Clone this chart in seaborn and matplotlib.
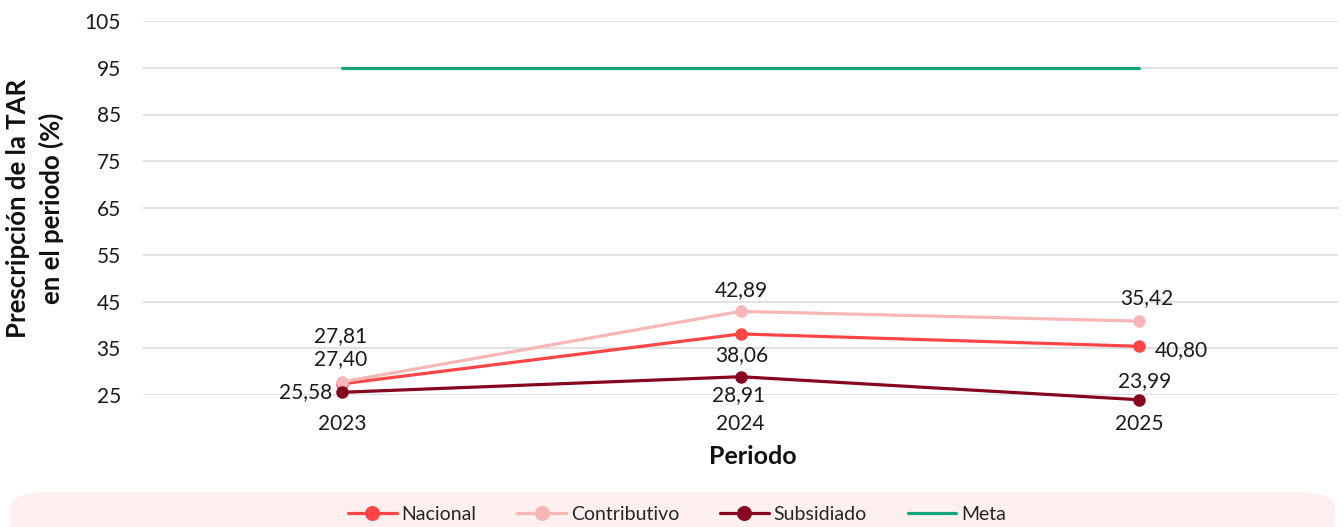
import pandas as pd
import matplotlib.pyplot as plt
import seaborn as sns
from matplotlib.patches import FancyBboxPatch

# Data
periodos = ['2023', '2024', '2025']
nacional = [27.40, 38.06, 35.42]
contributivo = [27.81, 42.89, 40.80]
subsidiado = [25.58, 28.91, 23.99]
meta = [95, 95, 95]

series = ['Nacional', 'Contributivo', 'Subsidiado', 'Meta']
colores = {'Nacional': '#ff4545', 'Contributivo': '#f7b7b7',
           'Subsidiado': '#85061e', 'Meta': '#12a67c'}

df = pd.DataFrame({
    'Periodo': periodos * 4,
    'Valor': nacional + contributivo + subsidiado + meta,
    'Serie': [s for s in series for _ in periodos],
})

# label offsets in pixels (dx, dy) relative to each point
offsets = {
    'Nacional': [(-2, 25), (1, -21), (8, 48)],
    'Contributivo': [(-2, 46), (1, 21), (43, -29)],
    'Subsidiado': [(-37, 0), (-2, -18), (6, 19)],
}

sns.set_theme(style='whitegrid')
plt.rcParams['font.family'] = ['Lato', 'DejaVu Sans']

fig = plt.figure(figsize=(13.43, 5.27), dpi=100)
ax = fig.add_axes([143 / 1343, 1 - 395 / 527, 1195 / 1343, 374 / 527])

for s in series:
    sub = df[df['Serie'] == s]
    sns.lineplot(data=sub, x='Periodo', y='Valor', ax=ax, color=colores[s],
                 linewidth=2.3, marker=None if s == 'Meta' else 'o',
                 markersize=9, markeredgewidth=0, label=s, clip_on=False,
                 zorder=3)

# data labels
for s in ['Nacional', 'Contributivo', 'Subsidiado']:
    vals = df[df['Serie'] == s]['Valor'].tolist()
    for i, v in enumerate(vals):
        dx, dy = offsets[s][i]
        ax.annotate(f'{v:.2f}'.replace('.', ','), xy=(i, v),
                    xytext=(dx, dy), textcoords='offset pixels',
                    ha='center', va='center', fontsize=15, color='#1a1a1a',
                    annotation_clip=False)

ax.set_xlim(-0.5, 2.5)
ax.set_ylim(25, 105)
ax.set_yticks(range(25, 106, 10))
ax.grid(axis='y', color='#d9d9d9', linewidth=1.1)
ax.grid(axis='x', visible=False)
for sp in ax.spines.values():
    sp.set_visible(False)
ax.tick_params(axis='y', length=0, pad=16, labelsize=15, labelcolor='#1a1a1a')
ax.tick_params(axis='x', length=0, pad=14, labelsize=15, labelcolor='#1a1a1a')

ax.set_xlabel('Periodo', fontsize=18, fontweight='bold', color='#111111')
ax.xaxis.set_label_coords(0.51, -0.135)
ax.set_ylabel('Prescripción de la TAR\nen el periodo (%)', fontsize=18.5,
              fontweight='bold', color='#111111', linespacing=1.4)
ax.yaxis.set_label_coords(-0.066, 0.5)

# legend with pink rounded background
bg = FancyBboxPatch((10 / 1343, -0.05), 1325 / 1343, (527 - 492) / 527 + 0.05,
                    boxstyle='round,pad=0,rounding_size=0.03',
                    transform=fig.transFigure, facecolor='#fff0f0',
                    edgecolor='none', zorder=0)
fig.patches.append(bg)

handles, labels = ax.get_legend_handles_labels()
ax.get_legend().remove()
fig.legend(handles, labels, loc='center', bbox_to_anchor=(677 / 1343, 1 - 514 / 527),
           ncol=4, frameon=False, fontsize=14, handlelength=2.5,
           handletextpad=0.25, columnspacing=2.1, markerscale=1.2)

plt.savefig('out.png', dpi=100)
